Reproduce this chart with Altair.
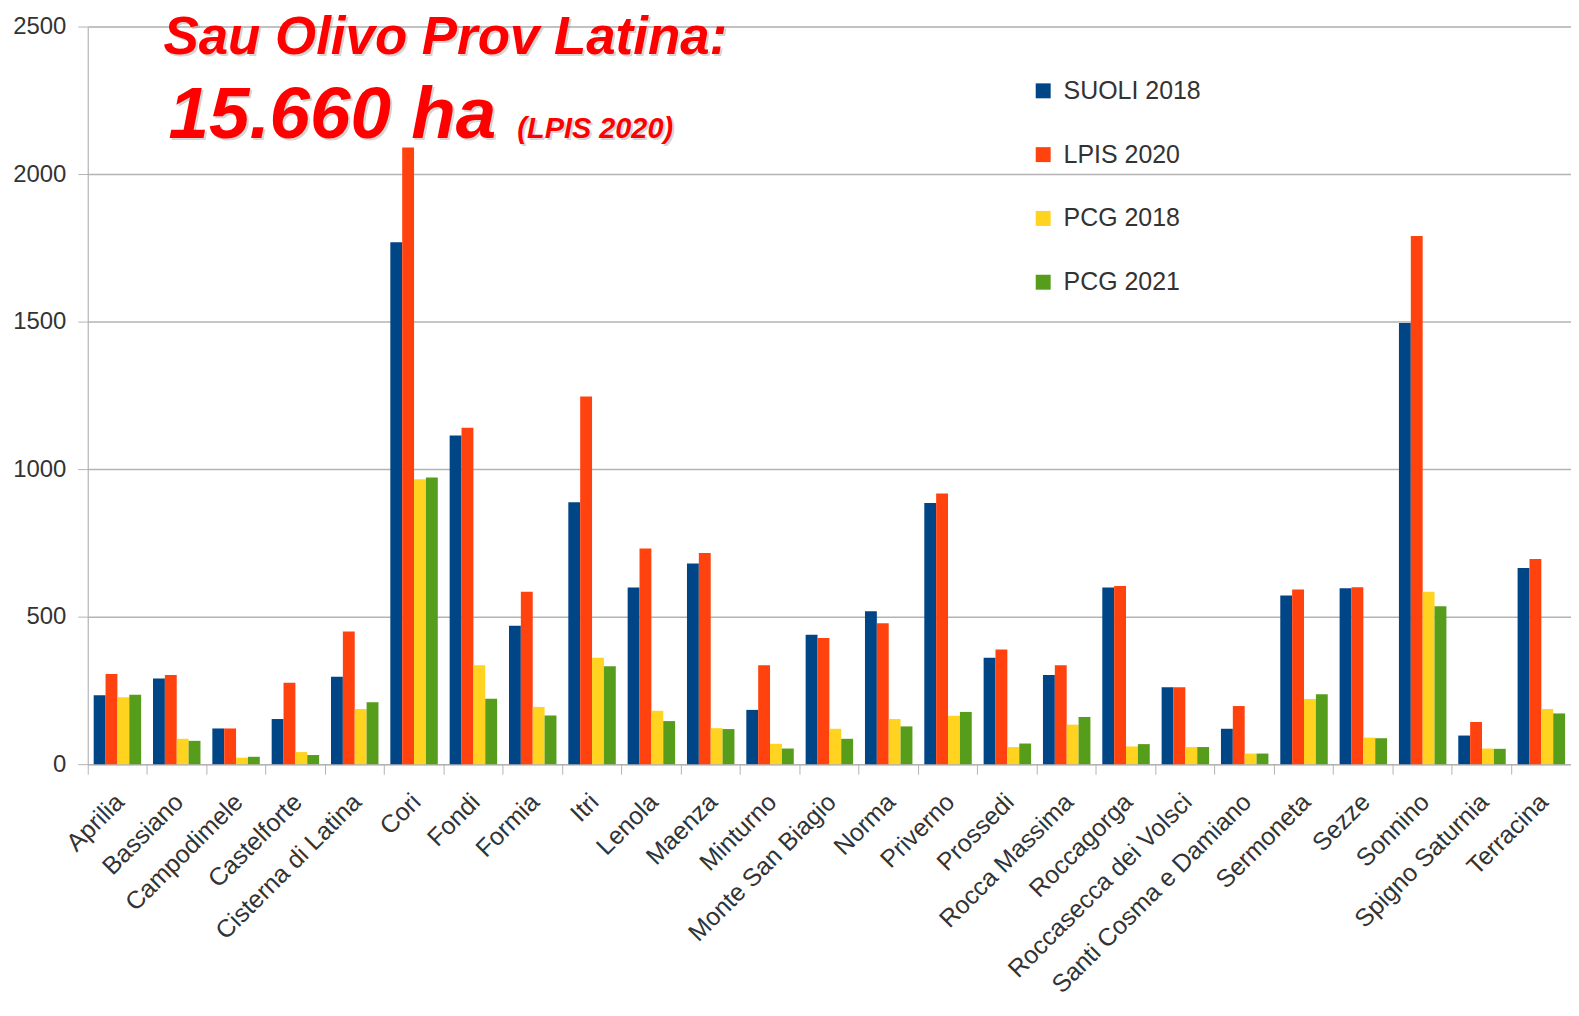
import altair as alt
import pandas as pd

comuni = ["Aprilia", "Bassiano", "Campodimele", "Castelforte", "Cisterna di Latina",
          "Cori", "Fondi", "Formia", "Itri", "Lenola", "Maenza", "Minturno",
          "Monte San Biagio", "Norma", "Priverno", "Prossedi", "Rocca Massima",
          "Roccagorga", "Roccasecca dei Volsci", "Santi Cosma e Damiano",
          "Sermoneta", "Sezze", "Sonnino", "Spigno Saturnia", "Terracina"]
suoli_2018 = [234, 290, 121, 153, 296, 1769, 1114, 469, 888, 599, 680, 184, 439, 518,
              885, 361, 302, 599, 261, 120, 572, 596, 1495, 97, 665]
lpis_2020 = [306, 302, 121, 276, 450, 2090, 1140, 584, 1246, 731, 716, 335, 428, 478,
             917, 389, 335, 604, 261, 197, 592, 600, 1790, 143, 695]
pcg_2018 = [227, 86, 22, 41, 187, 966, 335, 194, 361, 181, 122, 69, 120, 153,
            164, 58, 134, 60, 58, 36, 221, 90, 584, 53, 187]
pcg_2021 = [235, 79, 25, 31, 210, 972, 222, 165, 332, 146, 119, 53, 86, 128,
            177, 70, 160, 68, 58, 36, 237, 88, 535, 52, 172]

serie = ["SUOLI 2018", "LPIS 2020", "PCG 2018", "PCG 2021"]
colori = ["#004586", "#ff420e", "#ffd320", "#579d1c"]
y_ticks = [0, 500, 1000, 1500, 2000, 2500]

titolo_1 = "Sau Olivo Prov Latina:"
titolo_2 = "15.660 ha"
titolo_3 = "(LPIS 2020)"

rows = []
for i, c in enumerate(comuni):
    for s, vals in zip(serie, [suoli_2018, lpis_2020, pcg_2018, pcg_2021]):
        rows.append({"Comune": c, "Serie": s, "ha": vals[i]})
df = pd.DataFrame(rows)

W = 1488
H = 740
FONT = "Liberation Sans"

bars = alt.Chart(df).mark_bar().encode(
    x=alt.X("Comune:N", sort=comuni,
            scale=alt.Scale(paddingInner=0, paddingOuter=0),
            axis=alt.Axis(title=None, labelAngle=-45, labelAlign="right",
                          labelBaseline="top", bandPosition=0,
                          labelPadding=15, labelOffset=-6, labelLimit=0,
                          labelFontSize=25, labelFont=FONT, labelColor="#333333",
                          tickSize=10, tickColor="#b3b3b3", domainColor="#b3b3b3",
                          labelOverlap=False, grid=False)),
    xOffset=alt.XOffset("Serie:N", sort=serie,
                        scale=alt.Scale(paddingInner=0, paddingOuter=0.5)),
    y=alt.Y("ha:Q", scale=alt.Scale(domain=[0, 2500], nice=False),
            axis=alt.Axis(title=None, values=y_ticks, format="d", tickSize=10,
                          labelPadding=12,
                          labelFontSize=24, labelFont=FONT, labelColor="#333333",
                          tickColor="#b3b3b3", domainColor="#b3b3b3",
                          gridColor="#b3b3b3", gridWidth=1.5)),
    color=alt.Color("Serie:N", sort=serie,
                    scale=alt.Scale(domain=serie, range=colori),
                    legend=alt.Legend(title=None, orient="none", legendX=946,
                                      legendY=52, direction="vertical",
                                      symbolType="square", symbolSize=225,
                                      symbolStrokeWidth=0, labelFontSize=25,
                                      labelFont=FONT, labelColor="#333333",
                                      labelOffset=8, rowPadding=38, padding=0)),
)


def testo(t, x, y, size):
    d = pd.DataFrame({"t": [t]})
    shadow = alt.Chart(d).mark_text(
        font=FONT, fontSize=size, fontWeight="bold", fontStyle="italic",
        color="#888888", opacity=0.35, align="left", baseline="alphabetic",
        dx=2, dy=2,
    ).encode(x=alt.value(x), y=alt.value(y), text="t:N")
    main = alt.Chart(d).mark_text(
        font=FONT, fontSize=size, fontWeight="bold", fontStyle="italic",
        color="#ff0000", align="left", baseline="alphabetic",
    ).encode(x=alt.value(x), y=alt.value(y), text="t:N")
    return [shadow, main]


layers = [bars] + testo(titolo_1, 76, 28, 53) + testo(titolo_2, 81, 112, 73) \
    + testo(titolo_3, 431, 112, 29)

chart = alt.layer(*layers).properties(
    width=W, height=H,
    autosize=alt.AutoSizeParams(type="none"),
    padding={"left": 80, "top": 17, "right": 0, "bottom": 240},
).configure_view(stroke=None).configure(background="white")

chart.save("out.html", embed_options={"renderer": "svg", "actions": False})
